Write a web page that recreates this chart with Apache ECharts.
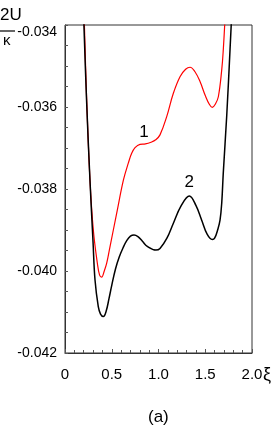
<!DOCTYPE html>
<html>
<head>
<meta charset="utf-8">
<script src="https://cdn.jsdelivr.net/npm/echarts@6/dist/echarts.min.js"></script>
<style>
html,body{margin:0;padding:0;background:#fff;}
#chart{width:273px;height:436px;}
</style>
</head>
<body>
<div id="chart"></div>
<script>
// Curve 1 (red)
var xi1 = [0.20, 0.23, 0.267, 0.303, 0.346, 0.37, 0.392, 0.42, 0.446, 0.481, 0.553, 0.625, 0.677, 0.713, 0.749, 0.802, 0.86, 0.92, 0.97, 1.016, 1.087, 1.158, 1.23, 1.29, 1.337, 1.39, 1.444, 1.50, 1.545, 1.575, 1.61, 1.64, 1.676, 1.693, 1.715];
var u1  = [-0.0334, -0.0357, -0.03778, -0.0390, -0.03981, -0.0401, -0.04015, -0.0400, -0.03981, -0.03941, -0.03859, -0.03778, -0.03737, -0.03713, -0.03699, -0.03691, -0.0369, -0.03686, -0.0368, -0.03668, -0.03624, -0.03567, -0.03526, -0.03508, -0.03503, -0.03514, -0.03538, -0.03572, -0.03594, -0.03601, -0.03592, -0.03575, -0.0351, -0.0346, -0.0337];
// Curve 2 (black)
var xi2 = [0.195, 0.23, 0.267, 0.30, 0.321, 0.356, 0.38, 0.41, 0.44, 0.47, 0.50, 0.54, 0.58, 0.62, 0.66, 0.70, 0.738, 0.78, 0.83, 0.88, 0.973, 1.016, 1.09, 1.158, 1.24, 1.33, 1.40, 1.462, 1.52, 1.575, 1.60, 1.635, 1.658, 1.676, 1.693, 1.73, 1.765, 1.79];
var u2  = [-0.0335, -0.0358, -0.03778, -0.0393, -0.04022, -0.04087, -0.04105, -0.04111, -0.04098, -0.04068, -0.04035, -0.03995, -0.03966, -0.03944, -0.03926, -0.03915, -0.03912, -0.03916, -0.03928, -0.0394, -0.03949, -0.03945, -0.0392, -0.03884, -0.03842, -0.03817, -0.0384, -0.03876, -0.0391, -0.03923, -0.0392, -0.03898, -0.03876, -0.03835, -0.0376, -0.0362, -0.0346, -0.0334];
// Axis ticks
var xTicks = [0, 0.5, 1.0, 1.5, 2.0];
var yTicks = [-0.042, -0.040, -0.038, -0.036, -0.034];
// Curve labels: [text, xi, U]
var curveLabels = [['1', 0.845, -0.03661], ['2', 1.329, -0.03783]];

function pairs(a, b) { return a.map(function (v, i) { return [v, b[i]]; }); }
var FONT = "'Liberation Sans', Arial, sans-serif";
var chart = echarts.init(document.getElementById('chart'), null, { renderer: 'canvas' });
chart.setOption({
  animation: false,
  backgroundColor: '#fff',
  grid: { left: 65, right: 21, top: 25, bottom: 83, show: true, borderColor: '#333', borderWidth: 1, containLabel: false, outerBoundsMode: 'none' },
  xAxis: {
    type: 'value', min: xTicks[0], max: xTicks[xTicks.length - 1], interval: 0.5,
    name: 'ξ', nameLocation: 'end', nameGap: 11, nameMoveOverlap: false,
    nameTextStyle: { fontFamily: FONT, fontSize: 18, color: '#000', verticalAlign: 'top', padding: [13, 0, 0, 0] },
    axisLine: { show: true, lineStyle: { color: '#333' } },
    axisTick: { show: true, inside: true, length: 4, lineStyle: { color: '#555' } },
    minorTick: { show: true, splitNumber: 5, length: 3, lineStyle: { color: '#555' } },
    splitLine: { show: false },
    axisLabel: {
      margin: 14, fontFamily: FONT, fontSize: 15, color: '#000',
      formatter: function (v) { return v === 0 ? '0' : v.toFixed(1); }
    }
  },
  yAxis: {
    type: 'value', min: yTicks[0], max: yTicks[yTicks.length - 1], interval: 0.002,
    axisLine: { show: true, lineStyle: { color: '#333' } },
    axisTick: { show: true, inside: true, length: 3, lineStyle: { color: '#555' } },
    minorTick: { show: true, splitNumber: 4, length: 3, lineStyle: { color: '#555' } },
    splitLine: { show: false },
    axisLabel: {
      margin: 8, fontFamily: FONT, fontSize: 14, color: '#000', lineHeight: 14,
      formatter: function (v) {
        var s = v.toFixed(3);
        return Math.abs(v - yTicks[yTicks.length - 1]) < 1e-9 ? '\n' + s : s;
      }
    }
  },
  series: [
    {
      type: 'line', data: pairs(xi1, u1), smooth: 0.4, showSymbol: false, clip: true,
      lineStyle: { color: '#ff0000', width: 1.2 },
      markPoint: {
        symbolSize: 0,
        label: { show: true, position: 'inside', fontFamily: FONT, fontSize: 17, color: '#000', formatter: curveLabels[0][0] },
        data: [{ coord: [curveLabels[0][1], curveLabels[0][2]] }]
      }
    },
    {
      type: 'line', data: pairs(xi2, u2), smooth: 0.4, showSymbol: false, clip: true,
      lineStyle: { color: '#000', width: 1.5 },
      markPoint: {
        symbolSize: 0,
        label: { show: true, position: 'inside', fontFamily: FONT, fontSize: 17, color: '#000', formatter: curveLabels[1][0] },
        data: [{ coord: [curveLabels[1][1], curveLabels[1][2]] }]
      }
    }
  ],
  graphic: [
    { type: 'text', left: 0, top: 7, style: { text: '2U', fontFamily: FONT, fontSize: 17, fill: '#000' } },
    { type: 'line', shape: { x1: 0, y1: 31, x2: 15, y2: 31 }, style: { stroke: '#000', lineWidth: 1.2 } },
    { type: 'text', left: 3, top: 33, style: { text: 'κ', fontFamily: FONT, fontSize: 15, fill: '#000' } },
    { type: 'text', left: 148, top: 409, style: { text: '(a)', fontFamily: FONT, fontSize: 17, fill: '#000' } }
  ]
});
</script>
</body>
</html>
